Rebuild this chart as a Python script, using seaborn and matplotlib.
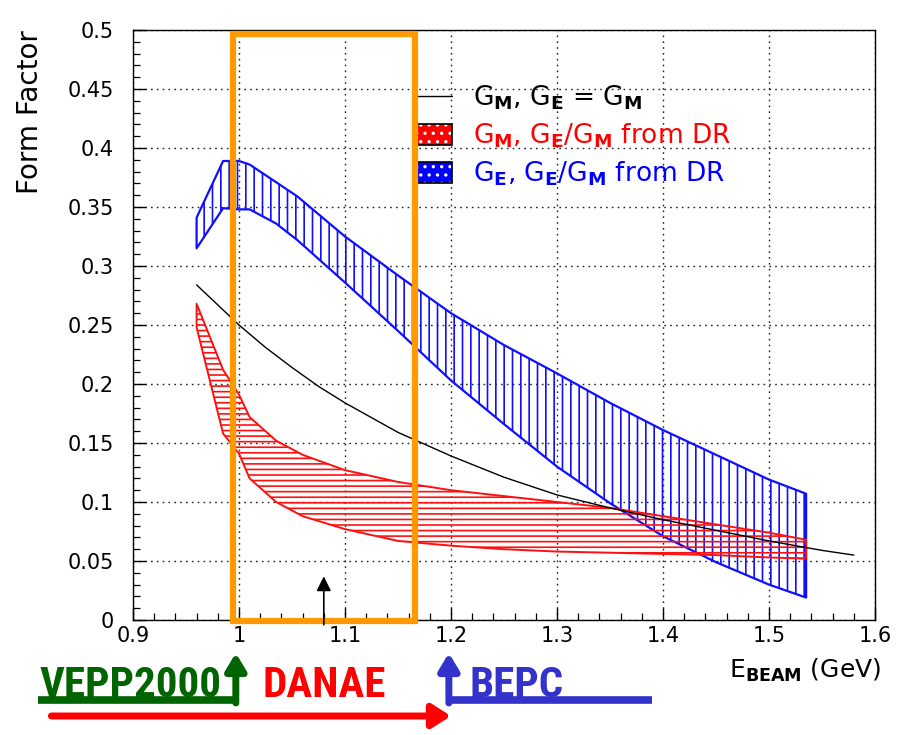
import matplotlib
matplotlib.use("Agg")
import matplotlib.pyplot as plt
import matplotlib.transforms as mtransforms
from matplotlib.lines import Line2D
from matplotlib.patches import Patch, Rectangle
from matplotlib.ticker import MultipleLocator
import pandas as pd
import seaborn as sns

# G_M curve assuming G_E = G_M
ebeam_black = [0.96, 0.98, 1.0, 1.025, 1.05, 1.075, 1.1, 1.15, 1.2, 1.25, 1.3, 1.35, 1.4, 1.45, 1.5, 1.55, 1.58]
ff_black = [0.284, 0.267, 0.250, 0.231, 0.214, 0.198, 0.184, 0.159, 0.139, 0.121, 0.106, 0.095, 0.085, 0.076, 0.067, 0.059, 0.055]

# G_M band, G_E/G_M from dispersion relations
ebeam_red = [0.96, 0.985, 1.0, 1.01, 1.035, 1.06, 1.1, 1.15, 1.2, 1.25, 1.3, 1.35, 1.4, 1.45, 1.5, 1.535]
red_upper = [0.268, 0.212, 0.191, 0.172, 0.152, 0.140, 0.127, 0.117, 0.110, 0.105, 0.100, 0.095, 0.088, 0.081, 0.074, 0.068]
red_lower = [0.248, 0.158, 0.141, 0.120, 0.100, 0.088, 0.077, 0.067, 0.063, 0.060, 0.058, 0.057, 0.056, 0.055, 0.053, 0.052]

# G_E band, G_E/G_M from dispersion relations
ebeam_blue = [0.96, 0.985, 1.0, 1.01, 1.035, 1.055, 1.1, 1.15, 1.2, 1.25, 1.3, 1.35, 1.4, 1.45, 1.5, 1.535]
blue_upper = [0.341, 0.389, 0.389, 0.386, 0.371, 0.359, 0.325, 0.292, 0.260, 0.233, 0.209, 0.184, 0.161, 0.140, 0.119, 0.107]
blue_lower = [0.315, 0.349, 0.348, 0.348, 0.336, 0.322, 0.286, 0.245, 0.203, 0.166, 0.130, 0.099, 0.071, 0.049, 0.030, 0.019]

legend_labels = [
    r"G$_\mathbf{M}$, G$_\mathbf{E}$ = G$_\mathbf{M}$",
    r"G$_\mathbf{M}$, G$_\mathbf{E}$/G$_\mathbf{M}$ from DR",
    r"G$_\mathbf{E}$, G$_\mathbf{E}$/G$_\mathbf{M}$ from DR",
]
x_ticks = [0.9, 1.0, 1.1, 1.2, 1.3, 1.4, 1.5, 1.6]
x_tick_labels = ["0.9", "1", "1.1", "1.2", "1.3", "1.4", "1.5", "1.6"]
y_ticks = [0, 0.05, 0.1, 0.15, 0.2, 0.25, 0.3, 0.35, 0.4, 0.45, 0.5]
y_tick_labels = ["0", "0.05", "0.1", "0.15", "0.2", "0.25", "0.3", "0.35", "0.4", "0.45", "0.5"]

sns.set_style("ticks")
plt.rcParams["font.family"] = ["DejaVu Sans"]
plt.rcParams["hatch.linewidth"] = 1.2
plt.rcParams["mathtext.fontset"] = "dejavusans"
plt.rcParams["text.color"] = "black"
plt.rcParams["axes.labelcolor"] = "black"
plt.rcParams["xtick.color"] = "black"
plt.rcParams["ytick.color"] = "black"

W, H = 901, 735
fig = plt.figure(figsize=(W / 100, H / 100), dpi=100)
ax = fig.add_axes([133 / W, (H - 620) / H, 742 / W, 590 / H])

# bands
ax.fill_between(ebeam_blue, blue_lower, blue_upper, facecolor="none",
                edgecolor="#1010ff", hatch="||", lw=1.6, zorder=3)
ax.fill_between(ebeam_red, red_lower, red_upper, facecolor="none",
                edgecolor="#ff1010", hatch="---", lw=1.4, zorder=3)

df_black = pd.DataFrame({"E": ebeam_black, "FF": ff_black})
sns.lineplot(data=df_black, x="E", y="FF", color="black", lw=1.0,
             estimator=None, sort=False, ax=ax, zorder=4)

ax.set_xlim(0.9, 1.6)
ax.set_ylim(0, 0.5)
ax.set_xticks(x_ticks, x_tick_labels)
ax.set_yticks(y_ticks, y_tick_labels)
ax.xaxis.set_minor_locator(MultipleLocator(0.02))
ax.yaxis.set_minor_locator(MultipleLocator(0.01))
ax.tick_params(which="major", direction="in", length=9, width=1.0,
               labelsize=15, top=False, right=False, colors="black")
ax.tick_params(axis="y", which="major", pad=14)
ax.tick_params(axis="x", which="major", pad=4)
ax.tick_params(which="minor", direction="in", length=5, width=0.9,
               top=False, right=False)
ax.grid(True, which="major", color="#222222", ls=(0, (1.2, 3.0)), lw=1.0)
ax.set_axisbelow(True)
for sp in ax.spines.values():
    sp.set_visible(True)
    sp.set_color("black")
    sp.set_linewidth(1.0)

ax.set_ylabel("Form Factor", fontsize=20, loc="top", color="black")
ax.yaxis.set_label_coords(-0.12, 1.0)
ax.set_xlabel(r"E$_\mathbf{BEAM}$ (GeV)", fontsize=18, loc="right", color="black")
ax.xaxis.set_label_coords(1.008, -0.063)

# highlighted energy window
ax.add_patch(Rectangle((0.9945, -0.001), 1.166 - 0.9945, 0.498, fill=False,
                       edgecolor="#ff9900", lw=4.5, zorder=6, clip_on=False))

# small marker arrow
ax.annotate("", xy=(1.08, 0.037), xytext=(1.08, -0.004),
            arrowprops=dict(arrowstyle="-|>", color="black", lw=1.2,
                            mutation_scale=22, shrinkA=0, shrinkB=0),
            zorder=7, annotation_clip=False)

# legend
handles = [
    Line2D([], [], color="black", lw=1.0),
    (Patch(facecolor="#ff0000", edgecolor="white", hatch="..", lw=0),
     Patch(facecolor="none", edgecolor="black", lw=1.2)),
    (Patch(facecolor="#0000ff", edgecolor="white", hatch="..", lw=0),
     Patch(facecolor="none", edgecolor="black", lw=1.2)),
]
leg = ax.legend(handles, legend_labels, loc="upper left",
                bbox_to_anchor=(416 / W, 1 - 84 / H), bbox_transform=fig.transFigure,
                frameon=False, fontsize=19, handlelength=1.35, handleheight=0.85,
                handletextpad=0.8, labelspacing=0.35, borderpad=0, borderaxespad=0)
for txt, col in zip(leg.get_texts(), ["black", "#ff0000", "#0000ff"]):
    txt.set_color(col)

# facility ranges below the axis
blend = mtransforms.blended_transform_factory(ax.transData, fig.transFigure)
def fy(py):
    return 1 - py / H

green = "#006400"
blue2 = "#3333cc"
red2 = "#ff0000"
narrow = ["Roboto Condensed", "Roboto"]
label_kw = dict(fontsize=31, weight="bold", family=narrow, ha="left", va="baseline")

fig.add_artist(Line2D([0.810, 0.999], [fy(700), fy(700)], transform=blend,
                      color=green, lw=5.5, solid_capstyle="butt"))
ax.annotate("", xy=(0.997, fy(653)), xytext=(0.997, fy(703)),
            xycoords=blend, textcoords=blend, annotation_clip=False,
            arrowprops=dict(arrowstyle="-|>,head_length=0.5,head_width=0.3",
                            color=green, lw=5, mutation_scale=20,
                            shrinkA=0, shrinkB=0))
fig.text(0.812, fy(697), "VEPP2000", transform=blend, color=green, **label_kw)

fig.text(1.022, fy(697), "DANAE", transform=blend, color=red2, **label_kw)

fig.add_artist(Line2D([1.196, 1.390], [fy(700), fy(700)], transform=blend,
                      color=blue2, lw=5.5, solid_capstyle="butt"))
ax.annotate("", xy=(1.198, fy(653)), xytext=(1.198, fy(703)),
            xycoords=blend, textcoords=blend, annotation_clip=False,
            arrowprops=dict(arrowstyle="-|>,head_length=0.5,head_width=0.3",
                            color=blue2, lw=5, mutation_scale=20,
                            shrinkA=0, shrinkB=0))
fig.text(1.217, fy(697), "BEPC", transform=blend, color=blue2, **label_kw)

ax.annotate("", xy=(1.200, fy(716)), xytext=(0.823, fy(716)),
            xycoords=blend, textcoords=blend, annotation_clip=False,
            arrowprops=dict(arrowstyle="-|>,head_length=0.55,head_width=0.35",
                            color=red2, lw=5, mutation_scale=20,
                            shrinkA=0, shrinkB=0))

fig.savefig("out.png", dpi=100, facecolor="white")
